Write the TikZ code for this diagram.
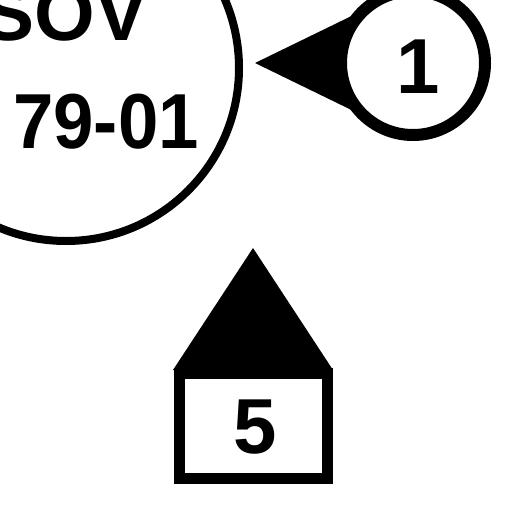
\documentclass[tikz,border=0pt]{standalone}
\usepackage{fontspec}
\setmainfont{Liberation Sans}
\newfontfamily\narrowsans[FakeStretch=0.93]{Liberation Sans}
\begin{document}
\begin{tikzpicture}[x=1pt,y=-1pt,
  lbl/.style={font=\bfseries\fontsize{78}{78}\selectfont, inner sep=0pt, anchor=base},
  ring/.style={draw=black, fill=white}]
\useasboundingbox (0,0) rectangle (512,512);
\clip (0,0) rectangle (512,512);
% big circle with label
\draw[line width=8pt] (66,68) circle[radius=173pt];
\node[lbl] (sov) at (65,40) {SOV};
\node[lbl, font=\narrowsans\bfseries\fontsize{78}{78}\selectfont] (code) at (106,148) {79-01};
% callout 1
\coordinate (tip1) at (255,63);
\fill (tip1) -- (370,7) -- (370,119) -- cycle;
\draw[ring, line width=12pt] (413,63) circle[radius=72pt];
\node[lbl] (n1) at (418,93) {1};
% callout 5
\coordinate (tip5) at (253,248);
\fill (tip5) -- (173,370) -- (333,370) -- cycle;
\draw[ring, line width=11pt] (179,373) rectangle (327,478);
\node[lbl] (n5) at (255,453) {5};
\end{tikzpicture}
\end{document}
